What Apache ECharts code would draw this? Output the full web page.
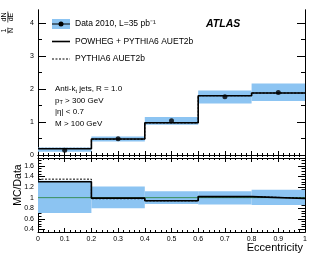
<!DOCTYPE html>
<html>
<head>
<meta charset="utf-8">
<script src="https://cdn.jsdelivr.net/npm/echarts@6/dist/echarts.min.js"></script>
<style>html,body{margin:0;padding:0;background:#fff;}#c{width:315px;height:259px;}</style>
</head>
<body>
<div id="c"></div>
<script>
// ---- data ----
const binEdges = [0, 0.2, 0.4, 0.6, 0.8, 1.0];
const binCenters = [0.1, 0.3, 0.5, 0.7, 0.9];
const dataValues = [0.145, 0.49, 1.04, 1.77, 1.90];
const dataBandLo = [0.10, 0.41, 0.92, 1.56, 1.64];
const dataBandHi = [0.23, 0.56, 1.15, 1.96, 2.17];
const powhegValues = [0.19, 0.485, 0.98, 1.80, 1.88];
const pythiaValues = [0.20, 0.48, 0.975, 1.80, 1.88];
const ratioBandLo = [0.71, 0.80, 0.88, 0.87, 0.86];
const ratioBandHi = [1.32, 1.21, 1.12, 1.12, 1.15];
const ratioPowheg = [1.30, 0.99, 0.94, 1.02, 0.985];
const ratioPythia = [1.35, 0.98, 0.94, 1.02, 0.99];
const xTickLabels = [0, 0.1, 0.2, 0.3, 0.4, 0.5, 0.6, 0.7, 0.8, 0.9, 1];
const topYLabels = [0, 1, 2, 3, 4];
const topYMinor = [0.5, 1.5, 2.5, 3.5];
const ratioYLabels = [0.4, 0.6, 0.8, 1, 1.2, 1.4, 1.6];
const ratioYMinor = [0.35,0.45,0.5,0.55,0.65,0.7,0.75,0.85,0.9,0.95,1.05,1.1,1.15,1.25,1.3,1.35,1.45,1.5,1.55,1.65,1.7,1.75];

const FONT = '"Liberation Sans", Arial, sans-serif';
const BAND = '#8cc4f2';

function stepData(vals){ return binEdges.map((e,i)=>[e, vals[Math.min(i, vals.length-1)]]); }
function bandData(lo, hi){ return lo.map((l,i)=>[binEdges[i], binEdges[i+1], l, hi[i]]); }
function bandRender(params, api){
  const p0 = api.coord([api.value(0), api.value(3)]);
  const p1 = api.coord([api.value(1), api.value(2)]);
  return {type:'rect', shape:{x:p0[0], y:p0[1], width:p1[0]-p0[0], height:p1[1]-p0[1]}, style:{fill:BAND}};
}

const axisLine = {show:true, lineStyle:{color:'#000', width:1}};
function xAx(grid, pos, showLabel){
  return {type:'value', gridIndex:grid, position:pos, min:0, max:1, interval:0.1,
    axisLine:axisLine, splitLine:{show:false},
    axisTick:{show:true, inside:true, length:4, lineStyle:{color:'#000'}},
    minorTick:{show:true, splitNumber:5, length:2, lineStyle:{color:'#000'}},
    axisLabel:{show:showLabel, fontSize:7, fontFamily:FONT, color:'#000', margin:4,
      customValues: xTickLabels, formatter:(v)=>String(+v.toFixed(1))}};
}
function yAx(grid, pos, min, max, majors, len, showLabel){
  return {type:'value', gridIndex:grid, position:pos, min:min, max:max,
    axisLine:axisLine, splitLine:{show:false},
    axisTick:{show:true, inside:true, length:len, customValues:majors, lineStyle:{color:'#000'}},
    axisLabel:{show:showLabel, customValues:majors, fontSize:7, fontFamily:FONT, color:'#000', margin:4,
      formatter:(v)=>String(+v.toFixed(1))}};
}
function vtext(x, y, t, size){
  return {type:'text', x:x, y:y, rotation:Math.PI/2, style:{text:t, font:size+'px '+FONT, fill:'#000', align:'center', verticalAlign:'middle'}};
}

const chart = echarts.init(document.getElementById('c'), null, {renderer:'canvas'});
chart.setOption({
  animation:false,
  backgroundColor:'#fff',
  grid:[
    {left:38, top:10, width:267, height:145},
    {left:38, top:158, width:267, height:74}
  ],
  xAxis:[
    xAx(0,'bottom',false), xAx(0,'top',false),
    xAx(1,'bottom',true), xAx(1,'top',false)
  ],
  yAxis:[
    yAx(0,'left',0,4.4,topYLabels,8,true),
    yAx(0,'left',0,4.4,topYMinor,4,false),
    yAx(0,'right',0,4.4,topYLabels,8,false),
    yAx(0,'right',0,4.4,topYMinor,4,false),
    yAx(1,'left',0.35,1.75,ratioYLabels,7,true),
    yAx(1,'left',0.35,1.75,ratioYMinor,3.5,false),
    yAx(1,'right',0.35,1.75,ratioYLabels,7,false),
    yAx(1,'right',0.35,1.75,ratioYMinor,3.5,false)
  ],
  series:[
    {type:'custom', xAxisIndex:0, yAxisIndex:0, renderItem:bandRender, data:bandData(dataBandLo,dataBandHi), encode:{x:[0,1], y:[2,3]}, z:1},
    {type:'line', xAxisIndex:0, yAxisIndex:0, step:'end', symbol:'none', data:stepData(powhegValues), lineStyle:{color:'#000', width:1.6}, z:3},
    {type:'line', xAxisIndex:0, yAxisIndex:0, step:'end', symbol:'none', data:stepData(pythiaValues), lineStyle:{color:'#000', width:1, type:[2,1.5]}, z:4},
    {type:'scatter', xAxisIndex:0, yAxisIndex:0, symbol:'circle', symbolSize:5, data:binCenters.map((c,i)=>[c,dataValues[i]]), itemStyle:{color:'#000'}, z:5},
    {type:'custom', xAxisIndex:2, yAxisIndex:4, renderItem:bandRender, data:bandData(ratioBandLo,ratioBandHi), encode:{x:[0,1], y:[2,3]}, z:1},
    {type:'line', xAxisIndex:2, yAxisIndex:4, symbol:'none', data:[[0,1],[1,1]], lineStyle:{color:'#3a8f5a', width:1}, z:2},
    {type:'line', xAxisIndex:2, yAxisIndex:4, step:'end', symbol:'none', data:stepData(ratioPowheg), lineStyle:{color:'#000', width:1.6}, z:3},
    {type:'line', xAxisIndex:2, yAxisIndex:4, step:'end', symbol:'none', data:stepData(ratioPythia), lineStyle:{color:'#000', width:1, type:[2,1.5]}, z:4}
  ],
  graphic:[
    // legend
    {type:'rect', shape:{x:52, y:19, width:18, height:10}, style:{fill:BAND}},
    {type:'line', shape:{x1:52, y1:24, x2:70, y2:24}, style:{stroke:'#000', lineWidth:1}},
    {type:'circle', shape:{cx:61, cy:24, r:2.5}, style:{fill:'#000'}},
    {type:'text', x:75, y:24, style:{text:'Data 2010, L=35 pb⁻¹', font:'8.5px '+FONT, fill:'#000', verticalAlign:'middle'}},
    {type:'line', shape:{x1:52, y1:41.5, x2:70, y2:41.5}, style:{stroke:'#000', lineWidth:1.6}},
    {type:'text', x:75, y:41.5, style:{text:'POWHEG + PYTHIA6 AUET2b', font:'8.5px '+FONT, fill:'#000', verticalAlign:'middle'}},
    {type:'line', shape:{x1:52, y1:59, x2:70, y2:59}, style:{stroke:'#000', lineWidth:1, lineDash:[2,1.5]}},
    {type:'text', x:75, y:59, style:{text:'PYTHIA6 AUET2b', font:'8.5px '+FONT, fill:'#000', verticalAlign:'middle'}},
    // ATLAS
    {type:'text', x:206, y:24, style:{text:'ATLAS', font:'italic bold 10.5px '+FONT, fill:'#000', verticalAlign:'middle'}},
    // annotations
    {type:'text', x:55, y:89, style:{text:'{n|Anti-k}{s|t}{n| jets, R = 1.0}', verticalAlign:'middle',
      rich:{n:{fontSize:8, fontFamily:FONT, fill:'#000'}, s:{fontSize:5.5, fontFamily:FONT, fill:'#000', verticalAlign:'bottom', padding:[4,0,0,0]}}}},
    {type:'text', x:55, y:100.5, style:{text:'{n|p}{s|T}{n| > 300 GeV}', verticalAlign:'middle',
      rich:{n:{fontSize:8, fontFamily:FONT, fill:'#000'}, s:{fontSize:5.5, fontFamily:FONT, fill:'#000', verticalAlign:'bottom', padding:[4,0,0,0]}}}},
    {type:'text', x:55, y:112, style:{text:'|η| < 0.7', font:'8px '+FONT, fill:'#000', verticalAlign:'middle'}},
    {type:'text', x:55, y:124, style:{text:'M > 100 GeV', font:'8px '+FONT, fill:'#000', verticalAlign:'middle'}},
    // y title: (1/N) (dN/dE)
    vtext(4, 17, 'dN', 7),
    vtext(11.5, 17, 'dE', 7),
    vtext(4, 30.5, '1', 7),
    vtext(11.5, 30.5, 'N', 7),
    {type:'line', shape:{x1:7.8, y1:11.5, x2:7.8, y2:22.5}, style:{stroke:'#000', lineWidth:0.7}},
    {type:'line', shape:{x1:7.8, y1:27.5, x2:7.8, y2:33.5}, style:{stroke:'#000', lineWidth:0.7}},
    vtext(18, 185, 'MC/Data', 10.5),
    // x title
    {type:'text', x:303, y:248, style:{text:'Eccentricity', font:'11px '+FONT, fill:'#000', align:'right', verticalAlign:'middle'}}
  ]
});
</script>
</body>
</html>
